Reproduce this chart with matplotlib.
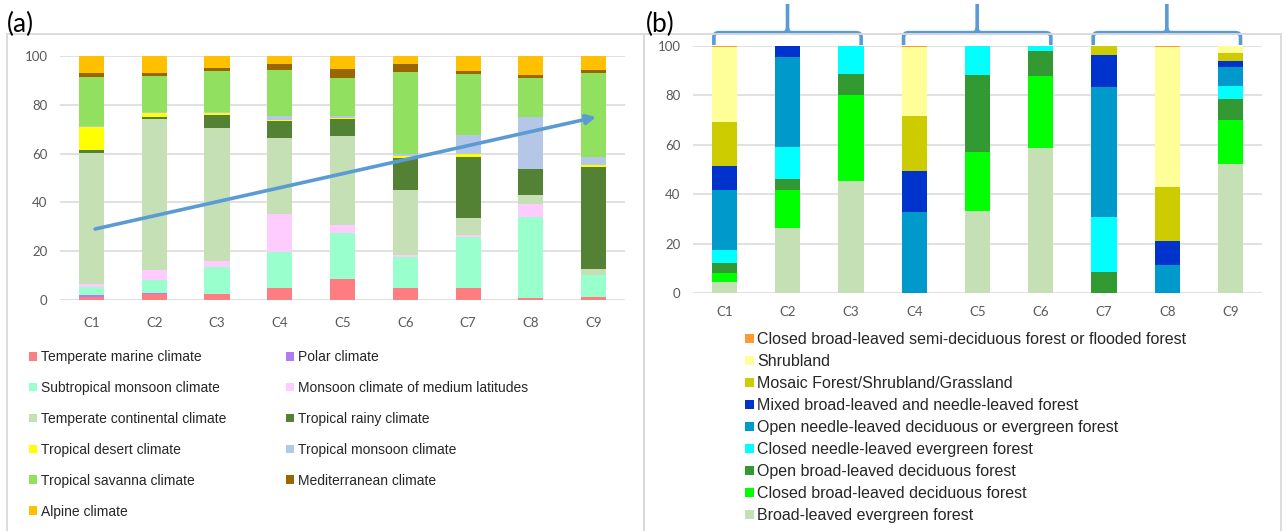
import matplotlib.pyplot as plt
from matplotlib.patches import Patch, Rectangle, PathPatch
from matplotlib.path import Path

# Cluster labels shared by both panels
clusters = ['C1', 'C2', 'C3', 'C4', 'C5', 'C6', 'C7', 'C8', 'C9']

# (a) climate share per cluster, bottom to top (%)
temperate_marine = [1.4, 2.5, 2.5, 4.8, 8.7, 4.8, 5.1, 0.8, 1.1]
polar = [0.8, 0.2, 0.0, 0.0, 0.0, 0.0, 0.0, 0.0, 0.0]
subtropical_monsoon = [3.1, 5.6, 11.0, 14.9, 18.8, 12.8, 20.6, 33.1, 9.0]
monsoon_medium = [1.1, 4.1, 2.3, 15.4, 3.4, 0.8, 0.8, 5.4, 0.0]
temperate_continental = [53.8, 61.6, 54.6, 31.4, 36.3, 26.8, 7.1, 3.9, 2.6]
tropical_rainy = [1.1, 1.0, 5.4, 6.7, 6.8, 12.9, 25.1, 10.5, 41.9]
tropical_desert = [9.5, 1.8, 0.8, 0.4, 0.6, 0.8, 1.3, 0.0, 0.7]
tropical_monsoon = [0.4, 0.4, 0.3, 1.9, 0.9, 0.9, 7.6, 21.4, 3.4]
tropical_savanna = [20.2, 14.6, 16.8, 18.6, 15.5, 33.6, 25.0, 15.7, 34.5]
mediterranean = [1.6, 1.1, 1.5, 2.5, 3.7, 3.2, 1.3, 1.5, 0.9]
alpine = [7.0, 7.1, 4.8, 3.4, 5.3, 3.4, 6.1, 7.7, 5.9]

climate_names = ['Temperate marine climate', 'Polar climate', 'Subtropical monsoon climate',
                 'Monsoon climate of medium latitudes', 'Temperate continental climate',
                 'Tropical rainy climate', 'Tropical desert climate', 'Tropical monsoon climate',
                 'Tropical savanna climate', 'Mediterranean climate', 'Alpine climate']
climate_values = [temperate_marine, polar, subtropical_monsoon, monsoon_medium,
                  temperate_continental, tropical_rainy, tropical_desert, tropical_monsoon,
                  tropical_savanna, mediterranean, alpine]
climate_colors = ['#FF7C80', '#B07CF2', '#99FFCC', '#FFCCFF', '#C5E0B4', '#548235',
                  '#FFFF00', '#B4C7E7', '#92E060', '#996600', '#FFC000']

# (b) land cover share per cluster, bottom to top (%)
broadleaf_evergreen = [4.4, 26.5, 45.4, 0.0, 33.4, 58.9, 0.0, 0.0, 52.3]
closed_bl_deciduous = [4.0, 15.3, 34.8, 0.0, 23.7, 29.0, 0.0, 0.0, 17.9]
open_bl_deciduous = [4.0, 4.4, 8.5, 0.0, 31.0, 10.1, 8.6, 0.0, 8.5]
closed_needle_evergreen = [5.1, 13.1, 11.3, 0.0, 11.9, 2.0, 22.3, 0.0, 5.1]
open_needle = [24.3, 36.4, 0.0, 32.9, 0.0, 0.0, 52.7, 11.3, 7.8]
mixed_forest = [9.7, 4.3, 0.0, 16.4, 0.0, 0.0, 12.8, 10.0, 2.3]
mosaic = [17.8, 0.0, 0.0, 22.4, 0.0, 0.0, 3.6, 21.6, 3.1]
shrubland = [30.4, 0.0, 0.0, 28.0, 0.0, 0.0, 0.0, 56.6, 3.0]
semi_deciduous = [0.3, 0.0, 0.0, 0.3, 0.0, 0.0, 0.0, 0.5, 0.0]

forest_names = ['Broad-leaved evergreen forest', 'Closed broad-leaved deciduous forest',
                'Open broad-leaved deciduous forest', 'Closed needle-leaved evergreen forest',
                'Open needle-leaved deciduous or evergreen forest',
                'Mixed broad-leaved and needle-leaved forest', 'Mosaic Forest/Shrubland/Grassland',
                'Shrubland', 'Closed broad-leaved semi-deciduous forest or flooded forest']
forest_values = [broadleaf_evergreen, closed_bl_deciduous, open_bl_deciduous,
                 closed_needle_evergreen, open_needle, mixed_forest, mosaic, shrubland,
                 semi_deciduous]
forest_colors = ['#C5E0B4', '#00FF00', '#339933', '#00FFFF', '#0099CC', '#0033CC',
                 '#CCCC00', '#FFFF99', '#FF9933']

# cluster groups marked by braces above panel (b)
brace_groups = [(0, 2), (3, 5), (6, 8)]

W, H = 1286, 531
fig = plt.figure(figsize=(W / 100, H / 100), dpi=100)
tick_font = 'Lato'
legend_font = 'Liberation Sans'
blue = '#5B9BD5'
grid_col = '#D9D9D9'


def px_axes(x0, x1, ytop, ybot):
    return fig.add_axes([x0 / W, 1 - ybot / H, (x1 - x0) / W, (ybot - ytop) / H])


def stacked(ax, values, colors):
    bottom = [0.0] * len(clusters)
    x = list(range(len(clusters)))
    for vals, col in zip(values, colors):
        ax.bar(x, vals, width=0.4, bottom=bottom, color=col, linewidth=0, zorder=2)
        bottom = [b + v for b, v in zip(bottom, vals)]
    ax.set_xlim(-0.5, len(clusters) - 0.5)
    ax.set_ylim(0, 100)
    ax.set_yticks(range(0, 101, 20))
    ax.set_xticks(x)
    ax.set_xticklabels(clusters)
    for s in ax.spines.values():
        s.set_visible(False)
    ax.grid(axis='y', color=grid_col, lw=1.1, zorder=0)
    ax.set_axisbelow(True)
    ax.tick_params(length=0, labelsize=9.5, labelcolor='#595959', pad=9)
    for lab in ax.get_xticklabels() + ax.get_yticklabels():
        lab.set_fontfamily(tick_font)


# frames around the two panels
fig.add_artist(Rectangle((7 / W, -0.01), (644 - 7) / W, 1 - 34 / H + 0.01, transform=fig.transFigure,
                         fill=False, edgecolor=grid_col, lw=1.3))
fig.add_artist(Rectangle((644 / W, -0.01), (1281 - 644) / W, 1 - 34 / H + 0.01, transform=fig.transFigure,
                         fill=False, edgecolor=grid_col, lw=1.3))

# ---- panel (a)
ax1 = px_axes(60, 625, 56, 300)
stacked(ax1, climate_values, climate_colors)
ax1.tick_params(axis='x', pad=12)
ax1.annotate('', xy=(8.04, 75.0), xytext=(0.06, 29.1),
             arrowprops=dict(arrowstyle='-|>', color=blue, lw=2.6, mutation_scale=14,
                             shrinkA=0, shrinkB=0), zorder=5)

handles_a = [Patch(facecolor=c, edgecolor='none') for c in climate_colors]
left_idx = [0, 2, 4, 6, 8, 10]
right_idx = [1, 3, 5, 7, 9]
for idx, xpos in [(left_idx, 29), (right_idx, 286)]:
    fig.legend([handles_a[i] for i in idx], [climate_names[i] for i in idx],
               loc='upper left', bbox_to_anchor=(xpos / W, 1 - 350 / H), frameon=False,
               borderpad=0, borderaxespad=0, handlelength=0.6, handleheight=0.6,
               handletextpad=0.25, labelspacing=1.22,
               prop={'family': legend_font, 'size': 10}, labelcolor='#262626')

fig.text(7 / W, 1 - 24 / H, '(a)', fontsize=19, family=tick_font, va='center', ha='left')

# ---- panel (b)
ax2 = px_axes(693, 1262, 46, 293.3)
stacked(ax2, forest_values, forest_colors)

for first, last in brace_groups:
    L, R = first - 0.17, last + 0.16
    mid = (L + R) / 2
    yb, yh, yt = 100.4, 105.4, 117.0
    verts = [(L, yb), (L, yh - 1.8), (L, yh), (L + 0.08, yh), (mid - 0.07, yh), (mid, yh), (mid, yh + 1.8), (mid, yt),
             (R, yb), (R, yh - 1.8), (R, yh), (R - 0.08, yh), (mid + 0.07, yh), (mid, yh), (mid, yh + 1.8)]
    codes = [Path.MOVETO, Path.LINETO, Path.CURVE3, Path.CURVE3, Path.LINETO, Path.CURVE3, Path.CURVE3, Path.LINETO,
             Path.MOVETO, Path.LINETO, Path.CURVE3, Path.CURVE3, Path.LINETO, Path.CURVE3, Path.CURVE3]
    ax2.add_patch(PathPatch(Path(verts, codes), fill=False, edgecolor=blue, lw=2.6,
                            clip_on=False, zorder=5, capstyle='butt'))

handles_b = [Patch(facecolor=c, edgecolor='none') for c in forest_colors][::-1]
fig.legend(handles_b, forest_names[::-1], loc='upper left', bbox_to_anchor=(745 / W, 1 - 332 / H),
           frameon=False, borderpad=0, borderaxespad=0, handlelength=0.55, handleheight=0.55,
           handletextpad=0.2, labelspacing=0.44,
           prop={'family': legend_font, 'size': 11.5}, labelcolor='#262626')

fig.text(646 / W, 1 - 24 / H, '(b)', fontsize=19, family=tick_font, va='center', ha='left')

fig.savefig('out.png', dpi=100)
